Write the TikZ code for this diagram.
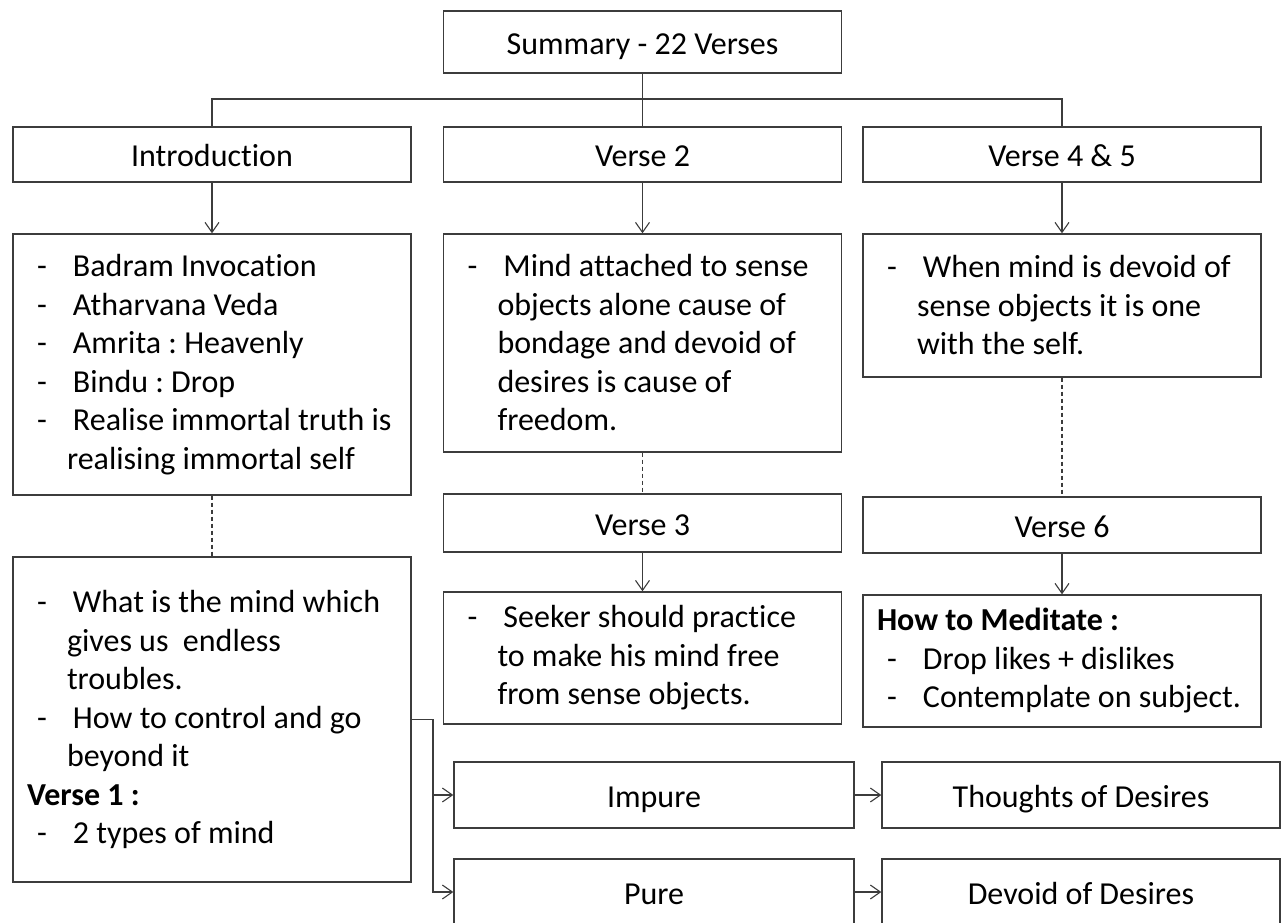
\documentclass[tikz,border=0pt]{standalone}
\usepackage{fontspec}
\setmainfont{Carlito}[Ligatures={NoCommon,NoContextual},Contextuals=NoAlternate]
\usetikzlibrary{arrows.meta,positioning}
\definecolor{linegray}{HTML}{3C3C3C}
\frenchspacing
\newcommand{\itm}{\makebox[23pt][l]{\hspace*{5pt}-}}
\newcommand{\contline}{\hspace*{20pt}}
\tikzset{
  box/.style={draw=linegray, line width=0.7pt, minimum width=199pt, inner sep=0pt,
    font=\fontsize{16}{19.25}\selectfont},
  hdr/.style={box, text height=13pt, text depth=1pt},
  lst/.style={box, align=flush left, text width=185pt, inner xsep=7pt},
  con/.style={draw=linegray, line width=0.55pt},
  arr/.style={con, -{Straight Barb[length=5pt,width=7pt]}},
  dsh/.style={con, dash pattern=on 2pt off 1.5pt}
}

\begin{document}
\begin{tikzpicture}[x=0.5pt,y=-0.5pt]
  \useasboundingbox (0,0) rectangle (1281,922);
  \fill[white] (0,0) rectangle (1281,922);
  \clip (0,0) rectangle (1281,922);

  % top row
  \node[hdr, minimum height=31pt] (summary) at (642.5,42) {Summary - 22 Verses};
  \node[hdr, minimum height=27.5pt] (intro) at (212,154.5) {Introduction};
  \node[hdr, minimum height=27.5pt] (verse2) at (642.5,154.5) {Verse 2};
  \node[hdr, minimum height=27.5pt] (verse45) at (1062,154.5) {Verse 4 \& 5};

  % left column
  \node[lst, minimum height=130.5pt] (badram) at (212,364.5) {%
    \itm Badram Invocation\\
    \itm Atharvana Veda\\
    \itm Amrita : Heavenly\\
    \itm Bindu : Drop\\
    \itm Realise immortal truth is\\
    \contline realising immortal self};
  \node[lst, minimum height=162.5pt] (mind) at (212,719.5) {%
    \itm What is the mind which\\
    \contline gives us\ \ endless\\
    \contline troubles.\\
    \itm How to control and go\\
    \contline beyond it\\
    \textbf{Verse 1 :}\\
    \itm 2 types of mind};

  % middle column
  \node[lst, minimum height=109pt] (attach) at (642.5,343) {%
    \itm Mind attached to sense\\
    \contline objects alone cause of\\
    \contline bondage and devoid of\\
    \contline desires is cause of\\
    \contline freedom.};
  \node[hdr, minimum height=29pt] (verse3) at (642.5,523) {Verse 3};
  \node[lst, minimum height=66pt] (seeker) at (642.5,658) {%
    \itm Seeker should practice\\
    \contline to make his mind free\\
    \contline from sense objects.};

  % right column
  \node[lst, minimum height=71.5pt] (when) at (1062,305.5) {%
    \itm When mind is devoid of\\
    \contline sense objects it is one\\
    \contline with the self.};
  \node[hdr, minimum height=28pt] (verse6) at (1062,525) {Verse 6};
  \node[lst, minimum height=66pt] (meditate) at (1062,661) {%
    \textbf{How to Meditate :}\\
    \itm Drop likes + dislikes\\
    \itm Contemplate on subject.};

  % bottom rows
  \node[hdr, minimum width=200pt, minimum height=33pt] (impure) at (654,795) {Impure};
  \node[hdr, minimum width=200pt, minimum height=33pt] (pure) at (654,892) {Pure};
  \node[hdr, minimum height=33pt] (thoughts) at (1081,795) {Thoughts of Desires};
  \node[hdr, minimum height=33pt] (devoid) at (1081,892) {Devoid of Desires};

  % connectors
  \coordinate (bus) at (642.5,99);
  \coordinate (split) at (433,719.5);
  \draw[con] (summary) -- (verse2);
  \draw[con] (intro.north) |- (bus) -| (verse45.north);
  \foreach \a/\b in {intro/badram, verse2/attach, verse45/when, verse3/seeker, verse6/meditate}
    \draw[arr] (\a) -- (\b);
  \foreach \a/\b in {badram/mind, attach/verse3, when/verse6}
    \draw[dsh] (\a) -- (\b);
  \draw[arr] (mind.east) -- (split) |- (impure.west);
  \draw[arr] (split) |- (pure.west);
  \draw[arr] (impure) -- (thoughts);
  \draw[arr] (pure) -- (devoid);
\end{tikzpicture}
\end{document}
